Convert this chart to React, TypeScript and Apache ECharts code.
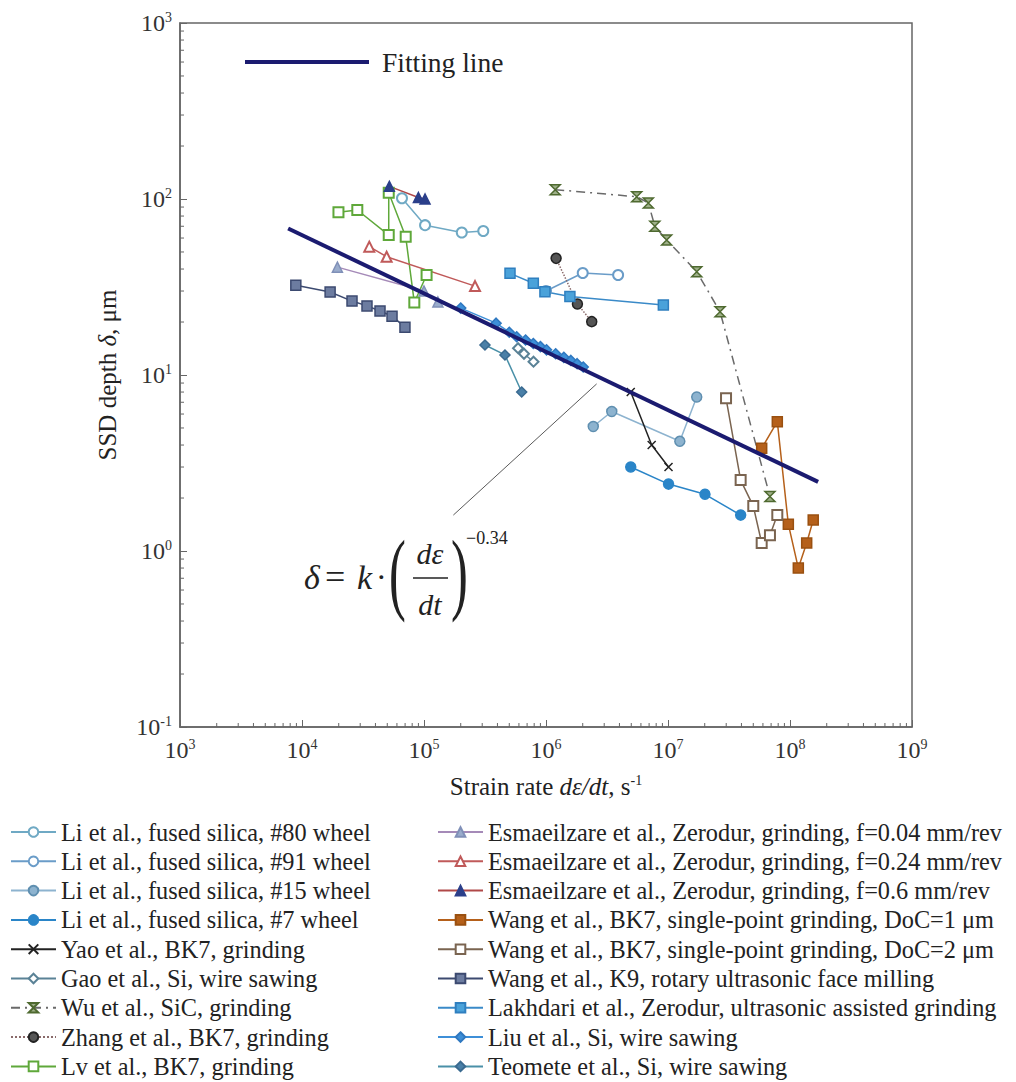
import React, { useEffect, useRef } from "react";
import * as echarts from "echarts";

const FONT = "Liberation Serif";

// Fitting line end points
const fitLine = [
  [7.7e3, 68],
  [1.7e8, 2.47],
];

// Arrow from formula to fitting line
const arrowFrom = [1.74e5, 1.6];
const arrowTo = [2.6e6, 8.9];

// Series data [strain rate, SSD depth]
const li80 = [[6.6e4, 101], [1.02e5, 71], [2.04e5, 64.5], [3.06e5, 65.8]];
const li91 = [[1.0e6, 30], [2.0e6, 38], [3.9e6, 37]];
const li15 = [[2.44e6, 5.1], [3.46e6, 6.2], [1.25e7, 4.2], [1.72e7, 7.5]];
const li7 = [[4.95e6, 3.0], [1.01e7, 2.4], [2.01e7, 2.1], [3.94e7, 1.6]];
const yao = [[4.95e6, 8.0], [7.35e6, 4.0], [1.01e7, 3.0]];
const gao = [[5.9e5, 14.2], [6.6e5, 13.2], [7.9e5, 11.9]];
const wu = [[1.19e6, 113], [5.54e6, 103], [6.9e6, 95], [7.8e6, 70], [9.75e6, 58.5], [1.72e7, 38.6], [2.67e7, 22.9], [6.85e7, 2.04]];
const zhang = [[1.21e6, 46], [1.81e6, 25.3], [2.37e6, 20.1]];
const lv = [[1.99e4, 84], [2.84e4, 86.6], [5.14e4, 62.4], [5.14e4, 108.6], [7.08e4, 61], [8.33e4, 25.8], [1.05e5, 37]];
const esm004 = [[1.95e4, 41], [1.0e5, 30], [1.3e5, 26]];
const esm024 = [[3.56e4, 53.6], [4.94e4, 47], [2.62e5, 32]];
const esm06 = [[5.2e4, 118], [9.0e4, 102], [1.02e5, 100]];
const wangDoc1 = [[5.86e7, 3.83], [7.87e7, 5.43], [9.69e7, 1.42], [1.17e8, 0.8], [1.37e8, 1.11], [1.55e8, 1.5]];
const wangDoc2 = [[2.99e7, 7.37], [3.94e7, 2.53], [5.0e7, 1.8], [5.86e7, 1.11], [6.85e7, 1.23], [7.87e7, 1.6]];
const wangK9 = [[8.9e3, 32.4], [1.7e4, 29.6], [2.57e4, 26.3], [3.41e4, 24.7], [4.36e4, 23.1], [5.47e4, 21.6], [6.98e4, 18.7]];
const lakhdari = [[5.07e5, 37.8], [7.87e5, 33.2], [9.8e5, 29.7], [1.57e6, 27.9], [9.16e6, 25]];
const liu = [[2.0e5, 24], [3.9e5, 19.7], [5.0e5, 17.5], [5.75e5, 16.5], [6.8e5, 15.8], [7.87e5, 15.1], [9.0e5, 14.5], [1.01e6, 13.9], [1.2e6, 13.2], [1.4e6, 12.6], [1.6e6, 12.1], [1.8e6, 11.6], [2.02e6, 11.1]];
const teomete = [[3.16e5, 14.8], [4.61e5, 13], [6.32e5, 8.0]];

// Minor tick multipliers
const minorMultipliers = [2, 3, 4, 5, 6, 7, 8, 9];

const CROSS = "path://M0,0L10,10M10,0L0,10";
const HOURGLASS = "path://M0,0L10,0L0,10L10,10Z";

type S = {
  name: string;
  data: number[][];
  color: string;
  border?: string;
  symbol: string;
  size?: number;
  lineColor?: string;
  lineType?: any;
  lineWidth?: number;
};

const col1: S[] = [
  { name: "Li et al., fused silica, #80 wheel", data: li80, color: "#6fa9c4", symbol: "emptyCircle" },
  { name: "Li et al., fused silica, #91 wheel", data: li91, color: "#6a9cc8", symbol: "emptyCircle" },
  { name: "Li et al., fused silica, #15 wheel", data: li15, color: "#8db3cf", border: "#5f8fb0", symbol: "circle" },
  { name: "Li et al., fused silica, #7 wheel", data: li7, color: "#2a85c8", border: "#2a85c8", symbol: "circle" },
  { name: "Yao et al., BK7, grinding", data: yao, color: "#222222", border: "#222222", symbol: CROSS, size: 8 },
  { name: "Gao et al., Si, wire sawing", data: gao, color: "#5a8296", symbol: "emptyDiamond" },
  { name: "Wu et al., SiC, grinding", data: wu, color: "#9fb08a", border: "#4f6a30", symbol: HOURGLASS, lineColor: "#6a6a6a", lineType: [9, 5, 2, 5], size: 10 },
  { name: "Zhang et al., BK7, grinding", data: zhang, color: "#555555", border: "#222222", symbol: "circle", lineColor: "#8a6a6a", lineType: "dotted" },
  { name: "Lv et al., BK7, grinding", data: lv, color: "#5fa83a", symbol: "emptyRect" },
];

const col2: S[] = [
  { name: "Esmaeilzare et al., Zerodur, grinding, f=0.04 mm/rev", data: esm004, color: "#9aaccc", border: "#8090b8", symbol: "triangle", lineColor: "#a58ab8" },
  { name: "Esmaeilzare et al., Zerodur, grinding, f=0.24 mm/rev", data: esm024, color: "#c05a5a", symbol: "emptyTriangle" },
  { name: "Esmaeilzare et al., Zerodur, grinding, f=0.6 mm/rev", data: esm06, color: "#2b3f8a", border: "#2b3f8a", symbol: "triangle", lineColor: "#b04848" },
  { name: "Wang et al., BK7, single-point grinding, DoC=1 μm", data: wangDoc1, color: "#b5601a", border: "#9a5010", symbol: "rect" },
  { name: "Wang et al., BK7, single-point grinding, DoC=2 μm", data: wangDoc2, color: "#7a6450", symbol: "emptyRect" },
  { name: "Wang et al., K9, rotary ultrasonic face milling", data: wangK9, color: "#6c7ca0", border: "#3c4a70", symbol: "rect", lineColor: "#3c4a70" },
  { name: "Lakhdari et al., Zerodur, ultrasonic assisted grinding", data: lakhdari, color: "#4aa2da", border: "#2f7fbf", symbol: "rect", lineColor: "#3a8ac8" },
  { name: "Liu et al., Si, wire sawing", data: liu, color: "#3d8fd8", border: "#2f78c0", symbol: "diamond" },
  { name: "Teomete et al., Si, wire sawing", data: teomete, color: "#4a80a8", border: "#3a6a90", symbol: "diamond", lineColor: "#4a90a8" },
];

function makeSeries(s: S): any {
  return {
    type: "line",
    name: s.name,
    data: s.data,
    symbol: s.symbol,
    symbolSize: s.size ?? 10,
    showSymbol: true,
    clip: false,
    z: 3,
    itemStyle: {
      color: s.color,
      borderColor: s.border ?? s.color,
      borderWidth: 1.5,
    },
    lineStyle: {
      color: s.lineColor ?? s.color,
      width: s.lineWidth ?? 1.5,
      type: s.lineType ?? "solid",
    },
  };
}

const xMinor: number[][] = [];
for (let e = 3; e < 9; e++) for (const m of minorMultipliers) xMinor.push([m * Math.pow(10, e), 0.1]);
const yMinor: number[][] = [];
for (let e = -1; e < 3; e++) for (const m of minorMultipliers) yMinor.push([1000, m * Math.pow(10, e)]);

const tickLabel = (v: number) => `{b|10}{s|${Math.round(Math.log10(v))}}`;
const tickRich = {
  b: { fontFamily: FONT, fontSize: 24, color: "#333", lineHeight: 26 },
  s: { fontFamily: FONT, fontSize: 14, color: "#333", verticalAlign: "top", lineHeight: 26 },
};

export default function App() {
  const ref = useRef<HTMLDivElement>(null);
  useEffect(() => {
    if (!ref.current) return;
    const chart = echarts.init(ref.current, undefined, { renderer: "svg" });
    const legendText = { fontFamily: FONT, fontSize: 24.3, color: "#222", lineHeight: 20 };
    const colLegend = {
      orient: "vertical",
      top: 820,
      height: 320,
      padding: 0,
      itemWidth: 45,
      itemHeight: 12,
      itemGap: 5.3,
      selectedMode: false,
      textStyle: legendText,
    };
    const option: any = {
      animation: false,
      backgroundColor: "#ffffff",
      grid: { left: 180, top: 23, width: 732, height: 704, show: true, borderColor: "#666", borderWidth: 1.5 },
      xAxis: {
        type: "log",
        min: 1e3,
        max: 1e9,
        logBase: 10,
        splitNumber: 6,
        name: "{a|Strain rate }{i|dε/dt}{a|, s}{s|-1}",
        nameLocation: "middle",
        nameGap: 46,
        nameTextStyle: {
          rich: {
            a: { fontFamily: FONT, fontSize: 25, color: "#222", lineHeight: 26 },
            i: { fontFamily: FONT, fontSize: 25, fontStyle: "italic", color: "#222", lineHeight: 26 },
            s: { fontFamily: FONT, fontSize: 14, color: "#222", verticalAlign: "top", lineHeight: 26 },
          },
        },
        axisLine: { lineStyle: { color: "#666", width: 1.5 } },
        axisTick: { inside: true, length: 7, lineStyle: { color: "#666" } },
        axisLabel: { margin: 10, formatter: tickLabel, rich: tickRich },
        splitLine: { show: false },
      },
      yAxis: {
        type: "log",
        min: 0.1,
        max: 1000,
        logBase: 10,
        splitNumber: 4,
        name: "{a|SSD depth }{i|δ}{a|, μm}",
        nameLocation: "middle",
        nameGap: 60,
        nameTextStyle: {
          rich: {
            a: { fontFamily: FONT, fontSize: 25, color: "#222" },
            i: { fontFamily: FONT, fontSize: 25, fontStyle: "italic", color: "#222" },
          },
        },
        axisLine: { lineStyle: { color: "#666", width: 1.5 } },
        axisTick: { inside: true, length: 7, lineStyle: { color: "#666" } },
        axisLabel: { margin: 8, formatter: tickLabel, rich: tickRich },
        splitLine: { show: false },
      },
      legend: [
        { ...colLegend, data: col1.map((s) => s.name), left: 10 },
        { ...colLegend, data: col2.map((s) => s.name), left: 437 },
        {
          data: ["Fitting line"],
          left: 243,
          top: 48,
          padding: 0,
          itemWidth: 124,
          itemHeight: 26,
          selectedMode: false,
          itemStyle: { opacity: 0 },
          lineStyle: { width: 4, color: "#1b1b70" },
          textStyle: { fontFamily: FONT, fontSize: 27.5, color: "#222", padding: [0, 0, 0, 8] },
        },
      ],
      graphic: [
        { type: "text", x: 304, y: 577, style: { text: "δ", font: `italic 34px ${FONT}`, fill: "#222", verticalAlign: "middle" } },
        { type: "text", x: 325, y: 577, style: { text: "=", font: `36px ${FONT}`, fill: "#222", verticalAlign: "middle" } },
        { type: "text", x: 357, y: 577, style: { text: "k", font: `italic 34px ${FONT}`, fill: "#222", verticalAlign: "middle" } },
        { type: "text", x: 376, y: 577, style: { text: "·", font: `32px ${FONT}`, fill: "#222", verticalAlign: "middle" } },
        { type: "text", x: 389, y: 572, scaleX: 0.55, style: { text: "(", font: `92px ${FONT}`, fill: "#222", verticalAlign: "middle" } },
        { type: "text", x: 430, y: 553, style: { text: "dε", font: `italic 30px ${FONT}`, fill: "#222", verticalAlign: "middle", align: "center" } },
        { type: "line", shape: { x1: 413, y1: 578, x2: 448, y2: 578 }, style: { stroke: "#222", lineWidth: 1.5 } },
        { type: "text", x: 430, y: 604, style: { text: "dt", font: `italic 30px ${FONT}`, fill: "#222", verticalAlign: "middle", align: "center" } },
        { type: "text", x: 451, y: 572, scaleX: 0.55, style: { text: ")", font: `92px ${FONT}`, fill: "#222", verticalAlign: "middle" } },
        { type: "text", x: 466, y: 538, style: { text: "−0.34", font: `18px ${FONT}`, fill: "#222", verticalAlign: "middle" } },
      ],
      series: [
        ...col1.map(makeSeries),
        ...col2.map(makeSeries),
        {
          type: "line",
          name: "Fitting line",
          data: fitLine,
          symbol: "none",
          z: 4,
          color: "#1b1b70",
          lineStyle: { color: "#1b1b70", width: 4 },
          markLine: {
            silent: true,
            symbol: ["none", "arrow"],
            symbolSize: [0, 11],
            label: { show: false },
            lineStyle: { color: "#5a5a5a", width: 1, type: "solid" },
            data: [[{ coord: arrowFrom }, { coord: arrowTo }]],
          },
        },
        {
          type: "custom",
          name: "xMinor",
          data: xMinor,
          silent: true,
          clip: false,
          z: 1,
          renderItem: (params: any, api: any) => {
            const p = api.coord([api.value(0), api.value(1)]);
            return { type: "line", shape: { x1: p[0], y1: p[1], x2: p[0], y2: p[1] - 4 }, style: { stroke: "#666", lineWidth: 1 } };
          },
        },
        {
          type: "custom",
          name: "yMinor",
          data: yMinor,
          silent: true,
          clip: false,
          z: 1,
          renderItem: (params: any, api: any) => {
            const p = api.coord([api.value(0), api.value(1)]);
            return { type: "line", shape: { x1: p[0], y1: p[1], x2: p[0] + 4, y2: p[1] }, style: { stroke: "#666", lineWidth: 1 } };
          },
        },
      ],
    };
    chart.setOption(option);
    return () => chart.dispose();
  }, []);
  return <div ref={ref} style={{ position: "absolute", left: 0, top: 0, width: 1016, height: 1082 }} />;
}
